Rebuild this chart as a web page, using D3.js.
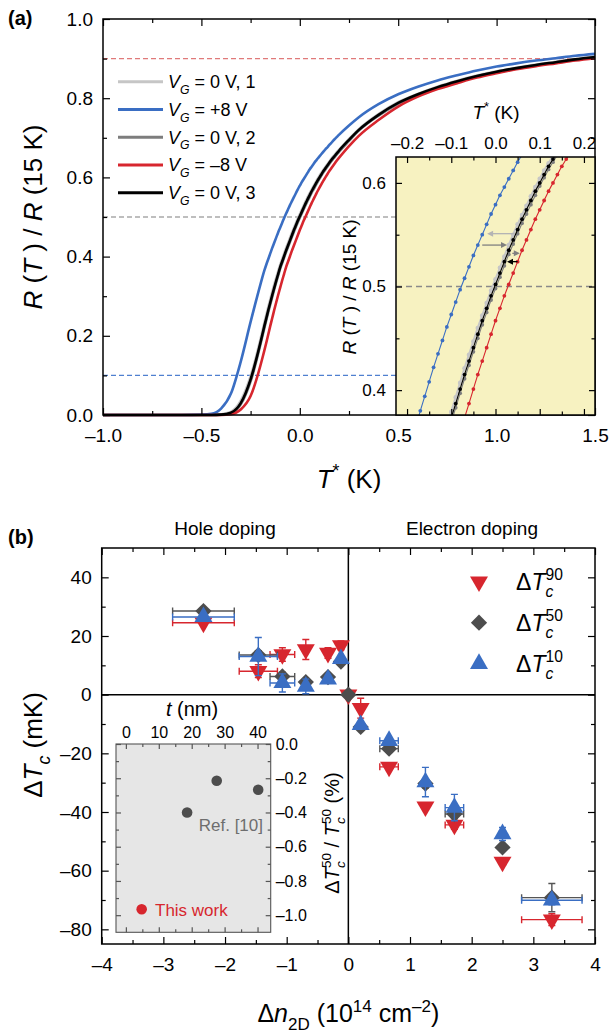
<!DOCTYPE html>
<html>
<head>
<meta charset="utf-8">
<script src="https://cdn.jsdelivr.net/npm/d3@7"></script>
<style>
  body { margin: 0; background: #fff; }
  svg { font-family: "Liberation Sans", Arial, Helvetica, sans-serif; }
</style>
</head>
<body>
<svg id="chart" width="613" height="1036"></svg>
<script>
// ---------- panel (a) data : R(T)/R(15K) vs T* ----------
var tGrid = [-1.0, -0.8, -0.6, -0.5, -0.45, -0.4, -0.35, -0.3, -0.25,
  -0.20, -0.19, -0.18, -0.17, -0.16, -0.15, -0.14, -0.13, -0.12, -0.11, -0.10,
  -0.09, -0.08, -0.07, -0.06, -0.05, -0.04, -0.03, -0.02, -0.01, 0.00,
  0.01, 0.02, 0.03, 0.04, 0.05, 0.06, 0.07, 0.08, 0.09, 0.10,
  0.11, 0.12, 0.13, 0.14, 0.15, 0.16, 0.17, 0.18, 0.19, 0.20,
  0.25, 0.3, 0.4, 0.5, 0.6, 0.7, 0.8, 0.9, 1.0, 1.1, 1.2, 1.3, 1.4, 1.5];

var r0V1 = [0, 0, 0, 0, 0, 0.002, 0.008, 0.036, 0.098,
  0.191, 0.212, 0.233, 0.253, 0.273, 0.292, 0.311, 0.329, 0.346, 0.363, 0.379,
  0.393, 0.407, 0.421, 0.434, 0.447, 0.460, 0.472, 0.484, 0.496, 0.507,
  0.518, 0.529, 0.540, 0.550, 0.560, 0.569, 0.578, 0.587, 0.596, 0.604,
  0.612, 0.619, 0.626, 0.633, 0.640, 0.647, 0.653, 0.659, 0.665, 0.670,
  0.697, 0.722, 0.760, 0.790, 0.811, 0.829, 0.844, 0.857, 0.868, 0.877, 0.885, 0.892, 0.899, 0.905];

var rPlus8 = [0, 0, 0, 0.001, 0.003, 0.016, 0.054, 0.135, 0.235,
  0.330, 0.348, 0.365, 0.380, 0.394, 0.408, 0.422, 0.435, 0.448, 0.461, 0.473,
  0.485, 0.497, 0.508, 0.519, 0.530, 0.540, 0.550, 0.560, 0.570, 0.579,
  0.588, 0.596, 0.604, 0.612, 0.620, 0.627, 0.634, 0.641, 0.647, 0.653,
  0.659, 0.665, 0.671, 0.676, 0.682, 0.687, 0.693, 0.698, 0.703, 0.708,
  0.731, 0.752, 0.785, 0.810, 0.829, 0.845, 0.858, 0.870, 0.880, 0.888, 0.895, 0.901, 0.907, 0.912];

var r0V2 = [0, 0, 0, 0, 0, 0.001, 0.005, 0.027, 0.085,
  0.178, 0.199, 0.220, 0.240, 0.260, 0.279, 0.298, 0.317, 0.335, 0.352, 0.369,
  0.383, 0.397, 0.411, 0.424, 0.437, 0.450, 0.463, 0.475, 0.487, 0.498,
  0.509, 0.520, 0.531, 0.541, 0.551, 0.561, 0.570, 0.579, 0.588, 0.597,
  0.605, 0.613, 0.620, 0.627, 0.634, 0.641, 0.647, 0.653, 0.659, 0.665,
  0.692, 0.718, 0.756, 0.786, 0.808, 0.826, 0.841, 0.855, 0.866, 0.875, 0.883, 0.890, 0.897, 0.903];

var rMinus8 = [0, 0, 0, 0, 0, 0, 0.002, 0.014, 0.048,
  0.125, 0.144, 0.163, 0.183, 0.204, 0.225, 0.245, 0.265, 0.284, 0.303, 0.321,
  0.339, 0.356, 0.373, 0.387, 0.401, 0.415, 0.428, 0.441, 0.454, 0.467,
  0.479, 0.491, 0.502, 0.513, 0.524, 0.535, 0.545, 0.555, 0.565, 0.574,
  0.583, 0.592, 0.600, 0.608, 0.616, 0.623, 0.630, 0.637, 0.644, 0.650,
  0.679, 0.705, 0.745, 0.779, 0.804, 0.823, 0.838, 0.852, 0.863, 0.873, 0.881, 0.888, 0.895, 0.901];

var r0V3 = [0, 0, 0, 0, 0, 0.001, 0.006, 0.030, 0.090,
  0.183, 0.204, 0.225, 0.245, 0.265, 0.284, 0.303, 0.321, 0.339, 0.356, 0.373,
  0.387, 0.401, 0.415, 0.428, 0.441, 0.454, 0.467, 0.479, 0.491, 0.502,
  0.513, 0.524, 0.535, 0.545, 0.555, 0.565, 0.574, 0.583, 0.592, 0.600,
  0.608, 0.616, 0.623, 0.630, 0.637, 0.644, 0.650, 0.656, 0.662, 0.668,
  0.695, 0.720, 0.758, 0.788, 0.810, 0.828, 0.843, 0.856, 0.867, 0.876, 0.884, 0.891, 0.898, 0.904];

var thresholds = [0.9, 0.5, 0.1];

// arrows in the inset: R level, from T*, to T*
var arrowLevels = [0.551, 0.540, 0.532, 0.524];
var arrowFrom = [0.043, -0.030, 0.038, 0.050];
var arrowTo = [-0.019, 0.026, 0.055, 0.026];

// ---------- panel (b) data : shift of Tc vs carrier density ----------
var dn    = [-2.35, -1.46, -1.07, -0.69, -0.33, -0.12, 0, 0.20, 0.66, 1.25, 1.72, 2.50, 3.30];
var dnErr = [0.50, 0.31, 0.20, 0.03, 0.04, 0.02, 0, 0.03, 0.15, 0.04, 0.15, 0.05, 0.49];
var dT90    = [24.5, 8.0, 13.7, 15.4, 14.2, 16.8, 0, -4.6, -24.6, -38.2, -44.4, -57.0, -76.7];
var dT90Err = [1.2, 2.2, 2.3, 3.4, 1.8, 1.5, 0, 3.4, 1.2, 1.0, 1.5, 1.2, 2.0];
var dT50    = [28.5, 13.5, 6.2, 4.3, 6.0, 11.3, 0, -11.0, -18.4, -30.3, -40.7, -52.1, -69.2];
var dT50Err = [1.0, 1.5, 1.5, 1.0, 1.0, 1.0, 0, 1.0, 1.0, 1.5, 1.5, 1.0, 4.8];
var dT10    = [26.5, 13.0, 4.0, 2.8, 5.2, 12.2, null, -10.3, -15.7, -29.8, -38.5, -47.5, -70.1];
var dT10Err = [1.0, 6.5, 3.1, 2.5, 1.0, 1.0, 0, 1.0, 1.0, 5.0, 4.5, 2.2, 1.5];

// inset (b): relative Tc change vs film thickness
var refThick = [18.6, 27.6, 40.2];
var refRatio = [-0.40, -0.215, -0.267];
var thisThick = [4.8];
var thisRatio = [-0.965];

// ---------- helpers ----------
var svg = d3.select("#chart");
var dash = function(v) { return String(v).replace("-", "\u2013").replace("\u2212", "\u2013"); };
var fmt1 = function(v) { return dash(d3.format(".1f")(v)); };
var fmt0 = function(v) { return dash(d3.format("d")(v)); };

function styleAxis(g, fs) {
  g.attr("font-family", null).attr("font-size", fs);
  g.select(".domain").remove();
  g.selectAll(".tick line").attr("stroke", "#000").attr("stroke-width", 1.2);
  g.selectAll(".tick text").attr("fill", "#000");
}

// inward ticks on all four sides of a box
function box(g, x, y, o) {
  var x0 = x.range()[0], x1 = x.range()[1], y0 = y.range()[0], y1 = y.range()[1];
  var makers = [d3.axisBottom, d3.axisTop, d3.axisLeft, d3.axisRight];
  var pos = ["translate(0," + y0 + ")", "translate(0," + y1 + ")",
             "translate(" + x0 + ",0)", "translate(" + x1 + ",0)"];
  var fmts = [o.bottomFmt, o.topFmt, o.leftFmt, o.rightFmt];
  makers.forEach(function(make, i) {
    var sc = i < 2 ? x : y;
    g.append("g").attr("transform", pos[i])
      .call(make(sc).tickValues(i < 2 ? o.xMin : o.yMin).tickSize(-o.minor).tickFormat(""))
      .call(styleAxis, o.fs);
    g.append("g").attr("transform", pos[i])
      .call(make(sc).tickValues(i < 2 ? o.xMaj : o.yMaj).tickSize(-o.major)
        .tickPadding(i < 2 ? o.padX : o.padY).tickFormat(fmts[i] || ""))
      .call(styleAxis, o.fs);
  });
  g.append("rect").attr("class", "frame")
    .attr("x", x0).attr("y", y1).attr("width", x1 - x0).attr("height", y0 - y1)
    .attr("fill", "none").attr("stroke", o.frame || "#000").attr("stroke-width", o.fw || 1.5);
}

// text made of parts (italic / sub / sup)
function rich(sel, parts, fs) {
  var cur = 0;
  parts.forEach(function(p) {
    var target = p.sub ? 0.32 * fs : (p.sup ? -0.42 * fs : 0);
    var ts = sel.append("tspan").text(p.t).attr("dy", target - cur);
    cur = target;
    if (p.sub || p.sup) ts.attr("font-size", fs * 0.68);
    if (p.i) ts.attr("font-style", "italic");
    if (p.dx) ts.attr("dx", p.dx);
  });
  return sel;
}

// ===================== PANEL (a) =====================
var xA = d3.scaleLinear().domain([-1, 1.5]).range([103, 595]);
var yA = d3.scaleLinear().domain([0, 1]).range([415, 19]);

var curves = [
  { r: r0V1,   color: "#c6c6c6", label: "0 V, 1" },
  { r: rPlus8, color: "#3a6ec3", label: "+8 V" },
  { r: r0V2,   color: "#7d7d7d", label: "0 V, 2" },
  { r: rMinus8, color: "#d7262e", label: "\u20138 V" },
  { r: r0V3,   color: "#000000", label: "0 V, 3" }
];

var gA = svg.append("g");

// threshold lines
var thrColor = ["#e07a7a", "#7f7f7f", "#4f80d0"];
var thrEnd = [1.5, 0.5, 0.5];
thresholds.forEach(function(t, i) {
  gA.append("line")
    .attr("x1", xA(-1)).attr("x2", xA(thrEnd[i]))
    .attr("y1", yA(t)).attr("y2", yA(t))
    .attr("stroke", thrColor[i]).attr("stroke-width", 1.1)
    .attr("stroke-dasharray", "5,3");
});

var lineA = d3.line().curve(d3.curveMonotoneX)
  .x(function(d) { return xA(d[0]); }).y(function(d) { return yA(d[1]); });

[0, 2, 1, 3, 4].forEach(function(k) {
  var c = curves[k];
  gA.append("path")
    .datum(tGrid.map(function(t, i) { return [t, c.r[i]]; }))
    .attr("d", lineA).attr("fill", "none")
    .attr("stroke", c.color).attr("stroke-width", 2.6);
});

box(gA, xA, yA, {
  xMaj: [-1, -0.5, 0, 0.5, 1, 1.5], xMin: [-0.75, -0.25, 0.25, 0.75, 1.25],
  yMaj: [0, 0.2, 0.4, 0.6, 0.8, 1.0], yMin: [0.1, 0.3, 0.5, 0.7, 0.9],
  major: 7, minor: 4, padX: 14, padY: 10, fs: 19,
  bottomFmt: fmt1, leftFmt: fmt1
});

// legend (a)
curves.forEach(function(c, i) {
  var yy = 81.7 + i * 27.75;
  gA.append("line").attr("x1", 118).attr("x2", 163).attr("y1", yy).attr("y2", yy)
    .attr("stroke", c.color).attr("stroke-width", 3);
  rich(gA.append("text").attr("x", 168).attr("y", yy + 6.5).attr("font-size", 18),
    [{ t: "V", i: true }, { t: "G", i: true, sub: true }, { t: " = " + c.label }], 18);
});

// ----- inset (a) -----
var xI = d3.scaleLinear().domain([-0.225, 0.225]).range([396, 595]);
var yI = d3.scaleLinear().domain([0.376, 0.625]).range([415, 157]);
var gI = svg.append("g");
gI.append("rect").attr("x", 396).attr("y", 157).attr("width", 199).attr("height", 258)
  .attr("fill", "#f7f2c1");
svg.append("clipPath").attr("id", "clipI").append("rect")
  .attr("x", 396).attr("y", 157).attr("width", 199).attr("height", 258);
var gIc = gI.append("g").attr("clip-path", "url(#clipI)");
gIc.append("line").attr("x1", 396).attr("x2", 595).attr("y1", yI(0.5)).attr("y2", yI(0.5))
  .attr("stroke", "#8a8a8a").attr("stroke-width", 1.3).attr("stroke-dasharray", "6,4");

var lineI = d3.line().curve(d3.curveMonotoneX)
  .x(function(d) { return xI(d[0]); }).y(function(d) { return yI(d[1]); });
[0, 2, 4, 1, 3].forEach(function(k) {
  var c = curves[k];
  var pts = tGrid.map(function(t, i) { return [t, c.r[i]]; })
    .filter(function(d) { return d[0] >= -0.3 && d[0] <= 0.3; });
  gIc.append("path").datum(pts).attr("d", lineI).attr("fill", "none")
    .attr("stroke", c.color).attr("stroke-width", k === 0 ? 2.2 : 1.1);
  gIc.selectAll(null).data(pts.filter(function(d) { return d[0] >= -0.2 && d[0] <= 0.2; }))
    .enter().append("circle")
    .attr("cx", function(d) { return xI(d[0]); }).attr("cy", function(d) { return yI(d[1]); })
    .attr("r", k === 0 ? 2.3 : 1.9).attr("fill", c.color);
});

// gate sequence arrows
var arrowColor = ["#b4b4b4", "#808080", "#808080", "#000000"];
arrowLevels.forEach(function(lv, i) {
  var x1 = xI(arrowFrom[i]), x2 = xI(arrowTo[i]), yy = yI(lv);
  var dir = x2 > x1 ? 1 : -1;
  gIc.append("line").attr("x1", x1).attr("x2", x2 - dir * 5).attr("y1", yy).attr("y2", yy)
    .attr("stroke", arrowColor[i]).attr("stroke-width", 1.3);
  gIc.append("path")
    .attr("d", "M" + x2 + "," + yy + "L" + (x2 - dir * 6) + "," + (yy - 3) + "L" + (x2 - dir * 6) + "," + (yy + 3) + "Z")
    .attr("fill", arrowColor[i]);
});

box(gI, xI, yI, {
  xMaj: [-0.2, -0.1, 0, 0.1, 0.2], xMin: [-0.15, -0.05, 0.05, 0.15],
  yMaj: [0.4, 0.5, 0.6], yMin: [0.45, 0.55],
  major: 6, minor: 3.5, padX: 8, padY: 10, fs: 17,
  topFmt: fmt1, leftFmt: fmt1
});

rich(gI.append("text").attr("x", 496).attr("y", 119).attr("font-size", 19).attr("text-anchor", "middle"),
  [{ t: "T", i: true }, { t: "*", sup: true }, { t: " (K)" }], 19);
rich(gI.append("text").attr("transform", "translate(356,287) rotate(-90)")
  .attr("font-size", 19).attr("text-anchor", "middle"),
  [{ t: "R", i: true }, { t: " (" }, { t: "T", i: true }, { t: " ) / " }, { t: "R", i: true }, { t: " (15 K)" }], 19);

// titles (a)
rich(svg.append("text").attr("x", xA(0.25)).attr("y", 488).attr("font-size", 26).attr("text-anchor", "middle"),
  [{ t: "T", i: true }, { t: "*", sup: true }, { t: " (K)" }], 26);
rich(svg.append("text").attr("transform", "translate(42,217) rotate(-90)")
  .attr("font-size", 26).attr("text-anchor", "middle"),
  [{ t: "R", i: true }, { t: " (" }, { t: "T", i: true }, { t: " ) / " }, { t: "R", i: true }, { t: " (15 K)" }], 26);
svg.append("text").attr("x", 8).attr("y", 25).attr("font-size", 20).attr("font-weight", "bold").text("(a)");

// ===================== PANEL (b) =====================
var xB = d3.scaleLinear().domain([-4, 4]).range([101.7, 595]);
var yB = d3.scaleLinear().domain([-85, 50]).range([944, 548]);
var gB = svg.append("g");

// ----- inset (b) -----
var xT = d3.scaleLinear().domain([-3, 44]).range([116, 270.7]);
var yT = d3.scaleLinear().domain([-1.1, 0]).range([932.3, 744]);
var gT = svg.append("g");
gT.append("rect").attr("x", 116).attr("y", 744).attr("width", 154.7).attr("height", 188.3)
  .attr("fill", "#e6e6e6");
box(gT, xT, yT, {
  xMaj: [0, 10, 20, 30, 40], xMin: [5, 15, 25, 35],
  yMaj: [0, -0.2, -0.4, -0.6, -0.8, -1.0], yMin: [-0.1, -0.3, -0.5, -0.7, -0.9],
  major: 5, minor: 3, padX: 6, padY: 5, fs: 16,
  topFmt: fmt0, rightFmt: fmt1, frame: "#555", fw: 1.1
});
gT.selectAll(".tick line").attr("stroke", "#555");
gT.selectAll(null).data(refThick).enter().append("circle")
  .attr("cx", function(d) { return xT(d); })
  .attr("cy", function(d, i) { return yT(refRatio[i]); })
  .attr("r", 5.3).attr("fill", "#4d4d4d");
gT.selectAll(null).data(thisThick).enter().append("circle")
  .attr("cx", function(d) { return xT(d); })
  .attr("cy", function(d, i) { return yT(thisRatio[i]); })
  .attr("r", 5.3).attr("fill", "#d7262e");
gT.append("text").attr("x", 155).attr("y", 916).attr("font-size", 17).attr("fill", "#d7262e").text("This work");
gT.append("text").attr("x", 263).attr("y", 831).attr("font-size", 17).attr("fill", "#6e6e6e")
  .attr("text-anchor", "end").text("Ref. [10]");
rich(gT.append("text").attr("x", 192).attr("y", 716).attr("font-size", 20).attr("text-anchor", "middle"),
  [{ t: "t", i: true }, { t: " (nm)" }], 20);
// stacked sub "c" then sup "50" pulled back over it
rich(gT.append("text").attr("transform", "translate(339,833) rotate(-90)")
  .attr("font-size", 20).attr("text-anchor", "middle"),
  [{ t: "\u0394" }, { t: "T", i: true }, { t: "c", i: true, sub: true }, { t: "50", sup: true, dx: -6.8 },
   { t: " / " }, { t: "T", i: true }, { t: "c", i: true, sub: true }, { t: "50", sup: true, dx: -6.8 }, { t: " (%)" }], 20);

// zero lines
gB.append("line").attr("x1", xB(-4)).attr("x2", xB(4)).attr("y1", yB(0)).attr("y2", yB(0))
  .attr("stroke", "#000").attr("stroke-width", 1.5);
gB.append("line").attr("x1", xB(0)).attr("x2", xB(0)).attr("y1", yB(50)).attr("y2", yB(-85))
  .attr("stroke", "#000").attr("stroke-width", 1.5);

box(gB, xB, yB, {
  xMaj: [-4, -3, -2, -1, 0, 1, 2, 3, 4], xMin: [-3.5, -2.5, -1.5, -0.5, 0.5, 1.5, 2.5, 3.5],
  yMaj: [-80, -60, -40, -20, 0, 20, 40], yMin: [-70, -50, -30, -10, 10, 30],
  major: 7, minor: 4, padX: 14, padY: 10, fs: 19,
  bottomFmt: fmt0, leftFmt: fmt0
});

var series = [
  { v: dT90, e: dT90Err, color: "#d7262e", bar: "#d7262e", shape: "down" },
  { v: dT50, e: dT50Err, color: "#4d4d4d", bar: "#555555", shape: "diamond" },
  { v: dT10, e: dT10Err, color: "#3a6ec3", bar: "#3a6ec3", shape: "up" }
];
var symTri = d3.symbol().type(d3.symbolTriangle).size(140);
var symDia = d3.symbol().type(d3.symbolSquare).size(132);

function marker(g, shape, cx, cy, color) {
  var p = g.append("path").attr("fill", color);
  if (shape === "diamond") p.attr("d", symDia).attr("transform", "translate(" + cx + "," + cy + ") rotate(45)");
  else p.attr("d", symTri).attr("transform", "translate(" + cx + "," + cy + ")" + (shape === "down" ? " rotate(180)" : ""));
}

series.forEach(function(s) {
  var gs = gB.append("g");
  dn.forEach(function(n, i) {
    var v = s.v[i];
    if (v === null) return;
    var cx = xB(n), cy = yB(v), cap = 3.5;
    if (dnErr[i] > 0.045) {
      var xl = xB(n - dnErr[i]), xr = xB(n + dnErr[i]);
      gs.append("path")
        .attr("d", "M" + xl + "," + cy + "H" + xr + "M" + xl + "," + (cy - cap) + "V" + (cy + cap) +
          "M" + xr + "," + (cy - cap) + "V" + (cy + cap))
        .attr("stroke", s.bar).attr("stroke-width", 1.4).attr("fill", "none");
    }
    if (s.e[i] > 1.2) {
      var yt = yB(v + s.e[i]), yb = yB(v - s.e[i]);
      gs.append("path")
        .attr("d", "M" + cx + "," + yt + "V" + yb + "M" + (cx - cap) + "," + yt + "H" + (cx + cap) +
          "M" + (cx - cap) + "," + yb + "H" + (cx + cap))
        .attr("stroke", s.bar).attr("stroke-width", 1.4).attr("fill", "none");
    }
    marker(gs, s.shape, cx, cy, s.color);
  });
});

// legend (b)
var legLabels = ["90", "50", "10"];
series.forEach(function(s, i) {
  var yy = 581.7 + i * 41;
  marker(gB, s.shape, 479, yy, s.color);
  rich(gB.append("text").attr("x", 516).attr("y", yy + 8).attr("font-size", 23),
    [{ t: "\u0394" }, { t: "T", i: true }, { t: "c", i: true, sub: true }, { t: legLabels[i], sup: true, dx: -7.8 }], 23);
});

// texts (b)
gB.append("text").attr("x", 225).attr("y", 535).attr("font-size", 19).attr("text-anchor", "middle").text("Hole doping");
gB.append("text").attr("x", 472).attr("y", 535).attr("font-size", 19).attr("text-anchor", "middle").text("Electron doping");
svg.append("text").attr("x", 8).attr("y", 544).attr("font-size", 20).attr("font-weight", "bold").text("(b)");

rich(svg.append("text").attr("x", xB(0)).attr("y", 1022).attr("font-size", 25).attr("text-anchor", "middle"),
  [{ t: "\u0394" }, { t: "n", i: true }, { t: "2D", sub: true }, { t: " (10" }, { t: "14", sup: true },
   { t: " cm" }, { t: "\u20132", sup: true }, { t: ")" }], 25);
rich(svg.append("text").attr("transform", "translate(42,745) rotate(-90)")
  .attr("font-size", 26).attr("text-anchor", "middle"),
  [{ t: "\u0394" }, { t: "T", i: true }, { t: "c", i: true, sub: true }, { t: " (mK)" }], 26);
</script>
</body>
</html>
